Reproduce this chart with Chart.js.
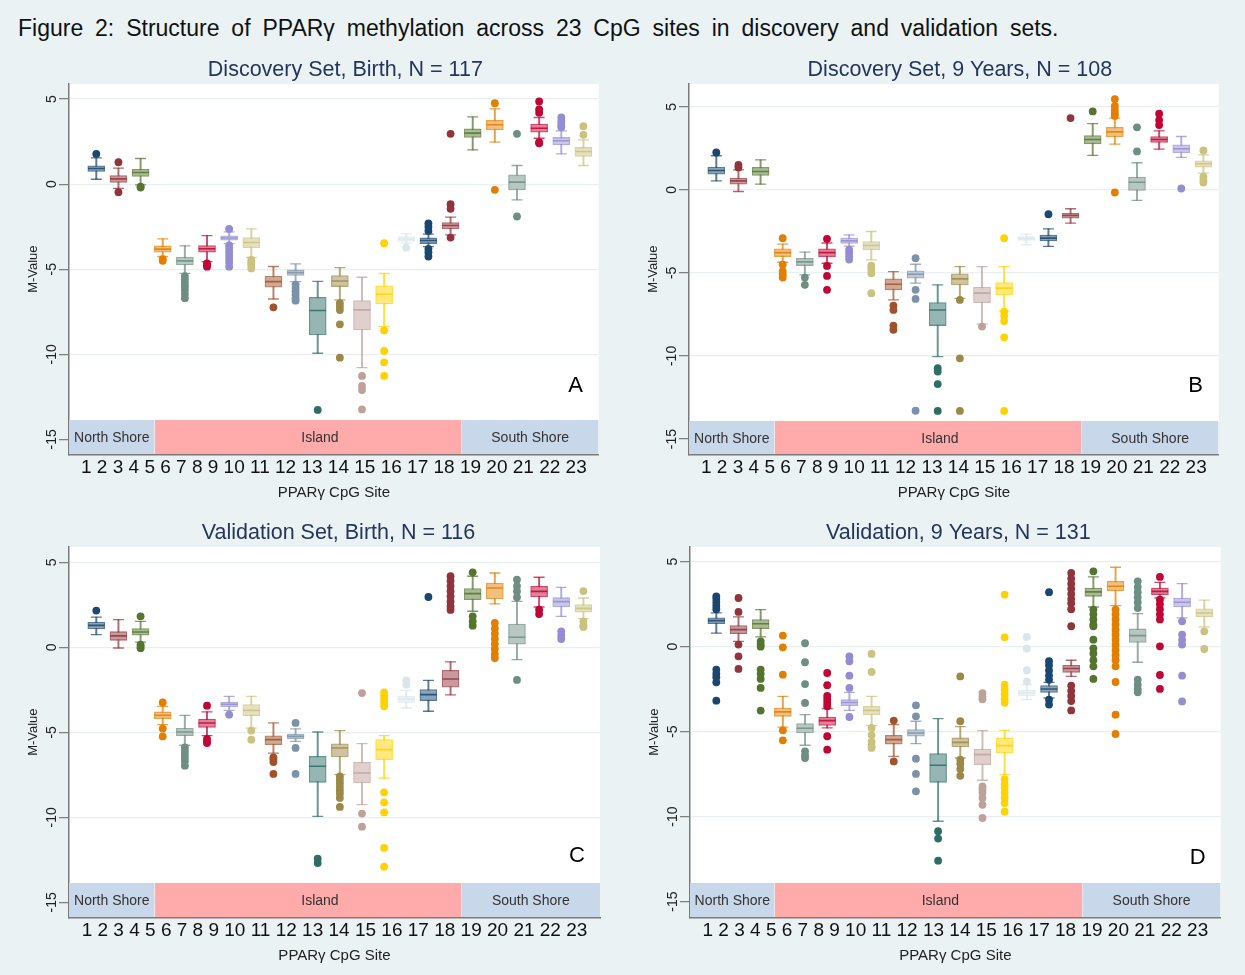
<!DOCTYPE html>
<html>
<head>
<meta charset="utf-8">
<script src="https://cdn.jsdelivr.net/npm/chart.js@4.4.1/dist/chart.umd.min.js"></script>
<style>
  html, body { margin: 0; padding: 0; background: #eaf2f3; width: 1245px; height: 975px; overflow: hidden; }
  body { font-family: "Liberation Sans", Arial, Helvetica, sans-serif; position: relative; }
  #figTitle { position: absolute; left: 18px; top: 14px; font-size: 23px; line-height: 28px; word-spacing: 5.5px; color: #111; white-space: nowrap; }
  .panel { position: absolute; width: 620px; height: 455px; }
</style>
</head>
<body>
<div id="figTitle">Figure 2: Structure of PPARγ methylation across 23 CpG sites in discovery and validation sets.</div>
<div class="panel" style="left:0px;top:55px"><canvas id="chartA" width="620" height="455"></canvas></div>
<div class="panel" style="left:620px;top:55px"><canvas id="chartB" width="620" height="455"></canvas></div>
<div class="panel" style="left:0px;top:518px"><canvas id="chartC" width="620" height="455"></canvas></div>
<div class="panel" style="left:621px;top:518px"><canvas id="chartD" width="620" height="455"></canvas></div>
<script>
const FONT = '"Liberation Sans", Arial, Helvetica, sans-serif';
Chart.defaults.font.family = FONT;

// ---- data ----
const sites = [1, 2, 3, 4, 5, 6, 7, 8, 9, 10, 11, 12, 13, 14, 15, 16, 17, 18, 19, 20, 21, 22, 23];
const yTicks = [-15, -10, -5, 0, 5];
const regionNames = ['North Shore', 'Island', 'South Shore'];
const regionBreaks = [3.63, 17.5];
const panelTitles = ['Discovery Set, Birth, N = 117', 'Discovery Set, 9 Years, N = 108',
                     'Validation Set, Birth, N = 116', 'Validation, 9 Years, N = 131'];
const panelLetters = ['A', 'B', 'C', 'D'];

// Discovery set, birth
const discBirthLo  = [0.29, -0.25, -0.04, -4.25, -5.24, -4.55, -3.49, -4.31, -6.75, -5.73, -9.94, -6.8, -10.78, -8.37, -3.47, -3.67, -2.98, 2.02, 2.47, -0.92, 2.7, 1.78, 1.1];
const discBirthQ1  = [0.75, 0.10, 0.45, -4.0, -4.75, -4.0, -3.29, -3.73, -6.06, -5.37, -8.86, -6.02, -8.57, -7.04, -3.37, -3.49, -2.63, 2.75, 3.2, -0.33, 3.06, 2.31, 1.63];
const discBirthMed = [0.92, 0.31, 0.69, -3.82, -4.51, -3.8, -3.16, -3.43, -5.73, -5.2, -7.43, -5.69, -7.39, -6.47, -3.22, -3.31, -2.43, 3.0, 3.49, 0.12, 3.29, 2.55, 1.92];
const discBirthQ3  = [1.08, 0.51, 0.88, -3.63, -4.29, -3.61, -3.04, -3.14, -5.41, -5.04, -6.65, -5.37, -6.84, -5.98, -3.08, -3.16, -2.25, 3.25, 3.75, 0.55, 3.53, 2.75, 2.16];
const discBirthHi  = [1.55, 0.94, 1.51, -3.22, -3.63, -3.02, -2.8, -2.63, -4.84, -4.69, -5.71, -4.9, -5.47, -5.25, -2.92, -2.94, -1.94, 3.96, 4.43, 1.1, 3.92, 3.14, 2.6];
const discBirthOut = [[1.78], [1.29, -0.47], [-0.15, -0.2], [-4.4, -4.5],
  [-5.4, -5.6, -5.8, -6.0, -6.2, -6.45, -6.7], [-4.65, -4.75, -4.85],
  [-2.63, -3.6, -3.8, -4.0, -4.2, -4.4, -4.6, -4.85], [-4.45, -4.6, -4.75, -4.95], [-7.24],
  [-5.9, -6.1, -6.3, -6.5, -6.7, -6.85], [-13.27], [-7.0, -7.2, -7.4, -8.24, -10.2],
  [-11.27, -11.86, -12.1, -13.24], [-3.47, -8.6, -9.8, -10.47, -11.27], [-3.73],
  [-2.3, -2.5, -2.75, -3.8, -4.0, -4.25], [-1.18, -1.45, -3.14, 2.96], [], [4.76, -0.33],
  [-1.9, 2.96], [4.86, 4.4, 4.2, 2.47, 2.4], [3.92, 3.7, 3.5, 3.35], [3.41, 2.9]];

// Discovery set, 9 years
const disc9yLo  = [0.54, -0.1, 0.34, -4.36, -5.12, -4.42, -3.39, -4.22, -6.63, -5.62, -10.04, -6.53, -8.09, -7.29, -3.31, -3.41, -2.01, 2.07, 2.75, -0.64, 2.45, 1.95, 1.0];
const disc9yQ1  = [0.94, 0.34, 0.86, -4.02, -4.56, -4.02, -3.23, -3.61, -6.02, -5.32, -8.17, -5.72, -6.79, -6.33, -3.05, -3.07, -1.71, 2.77, 3.19, -0.04, 2.85, 2.23, 1.37];
const disc9yMed = [1.16, 0.54, 1.1, -3.78, -4.34, -3.78, -3.07, -3.35, -5.68, -5.08, -7.23, -5.36, -6.22, -5.92, -2.93, -2.91, -1.55, 3.03, 3.49, 0.46, 3.03, 2.47, 1.57];
const disc9yQ3  = [1.37, 0.7, 1.35, -3.55, -4.12, -3.55, -2.91, -3.11, -5.36, -4.88, -6.79, -5.06, -5.86, -5.58, -2.81, -2.73, -1.41, 3.27, 3.76, 0.76, 3.21, 2.71, 1.75];
const disc9yHi  = [2.05, 1.2, 1.8, -3.27, -3.75, -3.2, -2.71, -2.51, -4.92, -4.48, -5.72, -4.62, -4.62, -4.62, -2.67, -2.35, -1.14, 3.98, 4.32, 1.63, 3.55, 3.21, 2.1];
const disc9yOut = [[2.25], [1.35, 1.5], [], [-2.91, -4.5, -4.9, -5.1, -5.28], [-5.28, -5.72],
  [-2.95, -4.58, -5.18, -6.02], [-3.6, -3.8, -4.0, -4.2], [-4.56, -4.76, -5.02, -6.22],
  [-6.97, -7.23, -8.17, -8.43], [-4.12, -6.02, -6.57, -13.3], [-10.74, -10.94, -11.69, -13.31],
  [-6.63, -10.14, -13.31], [-8.23], [-2.91, -7.33, -7.6, -7.9, -8.88, -13.31], [], [-1.47],
  [4.32], [4.72], [5.46, 5.05, 4.8, 4.6, 4.45, -0.16], [2.31, 3.76], [4.58, 4.2, 3.9], [0.08],
  [2.37, 0.8, 0.6, 0.44]];

// Validation set, birth
const valBirthLo  = [0.75, -0.04, 0.31, -4.55, -5.76, -5.2, -3.71, -4.75, -6.22, -5.53, -9.94, -7.49, -9.25, -7.69, -3.57, -3.76, -2.8, 2.12, 2.55, -0.73, 2.37, 1.82, 1.69];
const valBirthQ1  = [1.08, 0.41, 0.71, -4.2, -5.2, -4.71, -3.49, -4.02, -5.73, -5.39, -7.94, -6.45, -7.98, -6.61, -3.24, -3.14, -2.35, 2.8, 2.84, 0.18, 2.96, 2.37, 2.06];
const valBirthMed = [1.29, 0.67, 0.9, -4.0, -4.98, -4.45, -3.35, -3.71, -5.43, -5.24, -7.0, -5.92, -7.39, -6.02, -3.04, -2.78, -1.86, 3.16, 3.49, 0.59, 3.29, 2.69, 2.29];
const valBirthQ3  = [1.49, 0.92, 1.1, -3.8, -4.76, -4.22, -3.22, -3.37, -5.2, -5.1, -6.41, -5.67, -6.76, -5.43, -2.88, -2.49, -1.35, 3.45, 3.78, 1.37, 3.59, 2.92, 2.51];
const valBirthHi  = [1.78, 1.63, 1.53, -3.47, -4.0, -3.8, -2.88, -2.88, -4.45, -4.8, -4.98, -4.9, -5.67, -5.2, -2.53, -1.94, -0.86, 4.18, 4.37, 2.7, 4.12, 3.53, 2.9];
const valBirthOut = [[2.16], [], [1.82, 0.16, 0.05, -0.05], [-3.24, -4.78, -5.24],
  [-5.88, -6.1, -6.3, -6.5, -6.7, -6.96], [-3.43, -5.39, -5.55, -5.63], [-3.96], [-4.9, -5.43],
  [-6.47, -6.6, -6.75, -7.45], [-4.45, -5.92, -7.45], [-12.43, -12.69],
  [-7.6, -7.8, -8.0, -8.2, -8.4, -8.6, -8.86, -9.39], [-2.69, -9.78, -10.55],
  [-2.65, -2.85, -3.05, -3.25, -3.47, -8.53, -9.12, -9.71, -11.8, -12.9], [-1.94, -2.2], [2.96],
  [4.18, 3.9, 3.6, 3.3, 3.0, 2.7, 2.4, 2.2], [4.41, 1.82, 1.53, 1.27],
  [1.43, 1.1, 0.8, 0.5, 0.2, -0.1, -0.4, -0.63], [3.98, 3.6, 3.3, 2.95, -1.92], [2.22, 1.96],
  [0.94, 0.7, 0.49], [3.31, 1.53, 1.3, 1.2]];

// Validation set, 9 years
const val9yLo  = [0.8, 0.31, 0.57, -4.73, -5.8, -4.78, -3.75, -4.65, -6.45, -5.71, -10.27, -6.55, -7.86, -7.53, -3.12, -3.02, -1.75, 2.33, 2.41, -0.92, 2.86, 1.69, 1.16];
const val9yQ1  = [1.35, 0.76, 1.06, -4.1, -5.08, -4.63, -3.47, -4.0, -5.73, -5.27, -7.98, -5.9, -6.94, -6.25, -2.88, -2.69, -1.51, 2.96, 3.29, 0.25, 3.06, 2.33, 1.75];
const val9yMed = [1.53, 1.0, 1.35, -3.84, -4.8, -4.35, -3.29, -3.75, -5.47, -5.08, -6.98, -5.63, -6.35, -5.82, -2.73, -2.49, -1.29, 3.22, 3.55, 0.65, 3.25, 2.61, 1.98];
const val9yQ3  = [1.69, 1.24, 1.59, -3.61, -4.53, -4.14, -3.12, -3.51, -5.22, -4.88, -6.29, -5.37, -6.02, -5.37, -2.57, -2.29, -1.1, 3.45, 3.84, 1.04, 3.45, 2.86, 2.22];
const val9yHi  = [1.98, 1.75, 2.18, -2.92, -4.0, -3.65, -2.69, -2.92, -4.59, -4.39, -4.24, -4.7, -4.94, -4.92, -2.24, -2.1, -0.8, 4.1, 4.67, 1.94, 3.78, 3.71, 2.73];
const val9yOut = [[2.96, 2.8, 2.6, 2.4, 2.2, -1.35, -1.6, -1.8, -2.1, -3.18],
  [2.86, 2.04, 0.12, -0.57, -1.31], [0.31, 0.12, 0.0, -1.35, -1.6, -1.9, -2.43, -3.76],
  [0.65, -0.04, -1.65, -4.92, -5.51], [0.2, -0.92, -2.2, -3.31, -6.16, -6.4, -6.55],
  [-1.55, -2.27, -2.9, -3.1, -3.3, -3.5, -5.27, -6.06], [-0.57, -0.86, -1.71, -2.43, -4.14],
  [-0.43, -1.49, -4.78, -5.2, -5.6, -5.85, -5.96], [-4.35, -6.75], [-3.45, -4.1, -6.59, -7.49, -8.51],
  [-10.86, -11.29, -12.59], [-1.75, -4.39, -6.65, -6.9, -7.2, -7.6],
  [-2.73, -2.95, -3.1, -8.22, -8.4, -8.6, -8.9, -9.3, -10.08],
  [3.06, 0.55, -2.24, -2.5, -2.8, -3.1, -3.3, -7.8, -8.1, -8.3, -8.6, -8.9, -9.2, -9.7],
  [0.57, -0.12, -1.39, -2.05], [3.2, -0.86, -1.1, -1.4, -1.7, -1.95, -3.12, -3.41],
  [4.33, 4.0, 3.7, 3.4, 3.1, 2.8, 2.55, 2.2, 1.2, -2.29, -2.6, -2.9, -3.2, -3.75],
  [4.43, 2.18, 1.9, 1.6, 1.3, 1.2, 0.41, -0.1, -0.4, -0.8, -1.16, -1.9],
  [2.18, 1.9, 1.6, 1.3, 1.0, 0.7, 0.4, 0.1, -0.2, -0.5, -0.8, -1.16, -2.08, -4.0, -5.14],
  [3.84, 3.5, 3.2, 2.9, 2.6, 2.27, -1.94, -2.24, -2.5, -2.69],
  [4.1, 2.76, 2.5, 2.2, 1.9, 1.6, 0.02, -1.67, -2.49], [1.49, 0.71, 0.4, 0.12, -1.71, -3.22],
  [0.9, -0.14]];

// ---- styling ----
// Stata s2color palette, cycled over sites
const palette = ['#1a476f', '#90353b', '#55752f', '#e37e00', '#6e8e84', '#c10534', '#938dd2', '#cac27e',
                 '#a0522d', '#7b92a8', '#2d6d66', '#9c8847', '#bfa19c', '#ffd200', '#d9e6eb'];
const regionColours = ['#c8d7ea', '#ffabab', '#c8d7ea'];

function hexRgb(h) { return [1, 3, 5].map(i => parseInt(h.substr(i, 2), 16)); }
function alpha(h, a) { const c = hexRgb(h); return `rgba(${c[0]},${c[1]},${c[2]},${a})`; }
function tint(h, t) { const c = hexRgb(h).map(v => Math.round(v + (255 - v) * t)); return `rgb(${c[0]},${c[1]},${c[2]})`; }
function colourOf(site) { return palette[(site - 1) % palette.length]; }

const decor = {
  id: 'decor',
  beforeDraw(chart) {
    const { ctx, chartArea: a } = chart;
    ctx.save();
    ctx.fillStyle = '#ffffff';
    ctx.fillRect(a.left, a.top, a.right - a.left, a.bottom - a.top);
    ctx.restore();
  },
  afterDraw(chart, args, o) {
    const { ctx, chartArea: a, scales: { y } } = chart;
    const x = chart.scales.x;
    ctx.save();
    ctx.textAlign = 'center';
    ctx.textBaseline = 'middle';
    // panel title
    ctx.font = `21.5px ${FONT}`;
    ctx.fillStyle = '#25355c';
    ctx.fillText(o.title, (a.left + a.right) / 2 + o.titleShift, a.top - 14);
    // rotated y tick labels
    ctx.font = `14px ${FONT}`;
    ctx.fillStyle = '#222';
    y.ticks.forEach(t => {
      ctx.save();
      ctx.translate(a.left - 18, y.getPixelForValue(t.value));
      ctx.rotate(-Math.PI / 2);
      ctx.fillText(String(t.value), 0, 1);
      ctx.restore();
    });
    // region labels
    ctx.font = `14px ${FONT}`;
    ctx.fillStyle = '#333';
    const by = (y.getPixelForValue(o.bandTop) + a.bottom) / 2 + 1;
    const edges = [x.min, regionBreaks[0], regionBreaks[1], x.max];
    regionNames.forEach((n, i) => {
      let cx = (edges[i] + edges[i + 1]) / 2;
      if (i === 1) cx = 11.1;
      ctx.fillText(n, x.getPixelForValue(cx), by);
    });
    // panel letter
    ctx.font = `22px ${FONT}`;
    ctx.fillStyle = '#000';
    ctx.fillText(o.letter, a.right - 23, a.bottom - o.letterRise);
    ctx.restore();
  }
};

function makePanel(canvasId, p) {
  const boxFill = sites.map(s => tint(colourOf(s), 0.5));
  const lineCol = sites.map(s => alpha(colourOf(s), 0.72));
  const medCol = sites.map(s => alpha(colourOf(s), 0.85));

  const bandSets = regionNames.map((n, i) => {
    const edges = [p.xMin, regionBreaks[0], regionBreaks[1], p.xMax];
    return {
      type: 'line', label: n, order: 10,
      data: [{ x: edges[i], y: p.bandTop }, { x: edges[i + 1], y: p.bandTop }],
      fill: 'start', backgroundColor: regionColours[i], borderWidth: 0, pointRadius: 0
    };
  });

  const caps = [];
  sites.forEach((s, i) => { caps.push({ x: s, y: p.lo[i] }); caps.push({ x: s, y: p.hi[i] }); });
  const outliers = p.out.flatMap((vals, i) => vals.map(v => ({ x: sites[i], y: v })));

  return new Chart(document.getElementById(canvasId), {
    type: 'bar',
    data: {
      datasets: [
        ...bandSets,
        {
          type: 'bar', label: 'whisker', order: 7, grouped: false, barThickness: 1.3,
          data: sites.map((s, i) => ({ x: s, y: [p.lo[i], p.hi[i]] })),
          backgroundColor: lineCol, borderWidth: 0
        },
        {
          type: 'bar', label: 'box', order: 6, grouped: false, barThickness: 17,
          data: sites.map((s, i) => ({ x: s, y: [p.q1[i], p.q3[i]] })),
          backgroundColor: boxFill, borderColor: lineCol, borderWidth: 1.3, borderSkipped: false
        },
        {
          type: 'scatter', label: 'cap', order: 5,
          data: caps, pointStyle: 'line', pointRadius: 5.5, pointBorderWidth: 1.3,
          pointBorderColor: c => c.raw ? alpha(colourOf(c.raw.x), 0.72) : '#888'
        },
        {
          type: 'scatter', label: 'median', order: 4,
          data: sites.map((s, i) => ({ x: s, y: p.med[i] })),
          pointStyle: 'line', pointRadius: 8.3, pointBorderWidth: 1.6, pointBorderColor: medCol
        },
        {
          type: 'scatter', label: 'outlier', order: 3,
          data: outliers, pointRadius: 3.9, pointBorderWidth: 0,
          pointBackgroundColor: c => c.raw ? colourOf(c.raw.x) : '#888'
        }
      ]
    },
    options: {
      responsive: false,
      animation: false,
      events: [],
      layout: { padding: { top: 29, right: p.padRight, bottom: 0, left: 0 } },
      plugins: {
        legend: { display: false },
        tooltip: { enabled: false },
        decor: { title: p.title, titleShift: p.titleShift, letter: p.letter, letterRise: p.letterRise, bandTop: p.bandTop }
      },
      scales: {
        x: {
          type: 'linear', min: p.xMin, max: p.xMax, offset: false, weight: 0,
          afterFit: s => { s.height = 28; },
          ticks: { display: false },
          grid: { display: false },
          border: { color: '#7a7a7a', width: 1.5 },
          title: { display: true, text: sites.join(' '), color: '#111', font: { size: 19 }, padding: { top: 0, bottom: 3.4 } }
        },
        x2: {
          type: 'linear', position: 'bottom', display: true, weight: 1,
          afterFit: s => { s.height = 27.7; },
          ticks: { display: false },
          grid: { display: false, drawTicks: false },
          border: { display: false },
          title: { display: true, text: 'PPARγ CpG Site', color: '#222', font: { size: 15 }, padding: { top: 0, bottom: 8 } }
        },
        y: {
          type: 'linear', min: p.yMin, max: p.yMax,
          afterBuildTicks: s => { s.ticks = yTicks.map(v => ({ value: v })); },
          afterFit: s => { s.width = 69; },
          ticks: { display: false },
          grid: { color: '#e8f0f2', lineWidth: 1.3, drawTicks: true, tickLength: 10, tickColor: '#7a7a7a', tickWidth: 1.2 },
          border: { color: '#7a7a7a', width: 1.5 },
          title: { display: true, text: 'M-Value', color: '#222', font: { size: 13 }, padding: { top: 26, bottom: 0 } }
        }
      }
    },
    plugins: [decor]
  });
}

makePanel('chartA', { title: panelTitles[0], letter: panelLetters[0], lo: discBirthLo, q1: discBirthQ1, med: discBirthMed, q3: discBirthQ3, hi: discBirthHi, out: discBirthOut,
  yMin: -15.88, yMax: 5.89, xMin: -0.233, xMax: 23.69, bandTop: -13.86, padRight: 21.3, titleShift: 11.5, letterRise: 68 });
makePanel('chartB', { title: panelTitles[1], letter: panelLetters[1], lo: disc9yLo, q1: disc9yQ1, med: disc9yMed, q3: disc9yQ3, hi: disc9yHi, out: disc9yOut,
  yMin: -15.92, yMax: 6.37, xMin: -0.233, xMax: 23.69, bandTop: -13.92, padRight: 21.3, titleShift: 6, letterRise: 68 });
makePanel('chartC', { title: panelTitles[2], letter: panelLetters[2], lo: valBirthLo, q1: valBirthQ1, med: valBirthMed, q3: valBirthQ3, hi: valBirthHi, out: valBirthOut,
  yMin: -15.88, yMax: 5.9, xMin: -0.233, xMax: 23.75, bandTop: -13.86, padRight: 20, titleShift: 4, letterRise: 61 });
makePanel('chartD', { title: panelTitles[3], letter: panelLetters[3], lo: val9yLo, q1: val9yQ1, med: val9yMed, q3: val9yQ3, hi: val9yHi, out: val9yOut,
  yMin: -15.92, yMax: 5.86, xMin: -0.186, xMax: 23.74, bandTop: -13.9, padRight: 20.3, titleShift: 3, letterRise: 59 });
</script>
</body>
</html>
